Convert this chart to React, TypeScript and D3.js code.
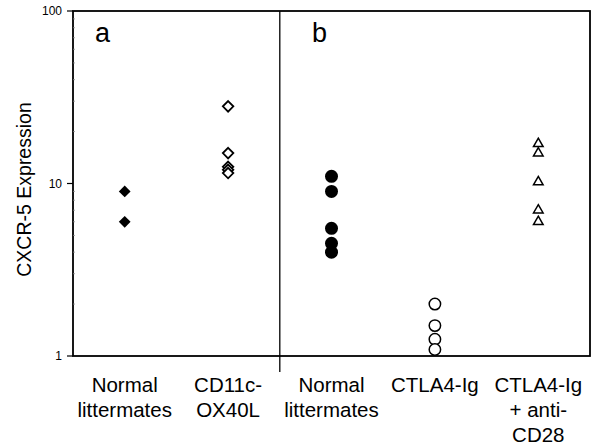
import React from "react";
import * as d3 from "d3";

const categories = ["Normal|littermates", "CD11c-|OX40L", "Normal|littermates", "CTLA4-Ig", "CTLA4-Ig|+ anti-|CD28"];
const normalA = [9, 6];
const ox40l = [28, 15, 12.5, 12, 11.5];
const normalB = [11, 9, 5.5, 4.5, 4.0];
const ctla4 = [2.0, 1.5, 1.25, 1.09];
const ctla4Cd28 = [17, 15, 10.2, 7, 6];
const yTicks = [1, 10, 100];
const panels = ["a", "b"];

const W = 596, H = 445;
const left = 73, right = 590, top = 11, bottom = 356;

export default function App() {
  const x = d3.scaleBand<number>().domain(d3.range(categories.length)).range([left, right]);
  const y = d3.scaleLog().domain([1, 100]).range([bottom, top]);
  const cx = (i: number) => (x(i) as number) + x.bandwidth() / 2;
  const font = "'Liberation Sans', Arial, sans-serif";
  const minor = [2, 3, 4, 5, 6, 7, 8, 9, 20, 30, 40, 50, 60, 70, 80, 90];
  const diamond = d3.symbol().type(d3.symbolDiamond2).size(88);
  const diamondO = d3.symbol().type(d3.symbolDiamond2).size(70);
  const tri = d3.symbol().type(d3.symbolTriangle2).size(66);
  const div = (x(2) as number);

  return (
    <svg width={W} height={H} style={{ position: "absolute", left: 0, top: 0, background: "#fff" }} fontFamily={font}>
      <rect x={0} y={0} width={W} height={H} fill="#fff" />
      {/* frame */}
      <rect x={left} y={top} width={right - left} height={bottom - top} fill="none" stroke="#000" strokeWidth={1.8} />
      <line x1={div} x2={div} y1={top} y2={bottom + 16} stroke="#000" strokeWidth={1.3} />
      {/* y ticks */}
      {yTicks.map((t) => (
        <g key={t}>
          <line x1={left - 6} x2={left} y1={y(t)} y2={y(t)} stroke="#000" strokeWidth={1.2} />
          <text x={62} y={y(t)} dy="0.35em" textAnchor="end" fontSize={12}>{t}</text>
        </g>
      ))}
      {minor.map((t) => (
        <line key={t} x1={left} x2={left + 2} y1={y(t)} y2={y(t)} stroke="#888" strokeWidth={0.8} />
      ))}
      <text transform={`translate(24,${(top + bottom) / 2 + 6}) rotate(-90)`} textAnchor="middle" dy="0.35em" fontSize={19.5}>CXCR-5 Expression</text>
      {/* panel letters */}
      <text x={102.5} y={42} fontSize={27} textAnchor="middle">{panels[0]}</text>
      <text x={319.5} y={42} fontSize={27} textAnchor="middle">{panels[1]}</text>
      {/* category labels */}
      {categories.map((c, i) => (
        <text key={i} x={cx(i)} y={385} textAnchor="middle" fontSize={20.5}>
          {c.split("|").map((line, j) => (
            <tspan key={j} x={cx(i)} dy={j === 0 ? "0.35em" : 25}>{line}</tspan>
          ))}
        </text>
      ))}
      {/* marks */}
      {normalA.map((v, k) => (
        <path key={"a" + k} d={diamond() as string} transform={`translate(${cx(0)},${y(v)})`} fill="#000" />
      ))}
      {ox40l.map((v, k) => (
        <path key={"o" + k} d={diamondO() as string} transform={`translate(${cx(1)},${y(v)})`} fill="#fff" stroke="#000" strokeWidth={1.8} />
      ))}
      {normalB.map((v, k) => (
        <circle key={"b" + k} cx={cx(2)} cy={y(v)} r={6.5} fill="#000" />
      ))}
      {ctla4.map((v, k) => (
        <circle key={"c" + k} cx={cx(3)} cy={y(v)} r={5.7} fill="#fff" stroke="#000" strokeWidth={1.5} />
      ))}
      {ctla4Cd28.map((v, k) => (
        <path key={"t" + k} d={tri() as string} transform={`translate(${cx(4)},${y(v)})`} fill="none" stroke="#000" strokeWidth={1.5} />
      ))}
    </svg>
  );
}
